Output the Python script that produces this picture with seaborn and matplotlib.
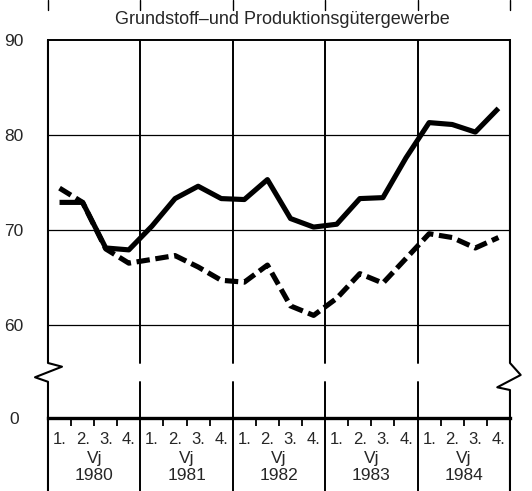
import numpy as np
import pandas as pd
import matplotlib.pyplot as plt
import seaborn as sns
from matplotlib.lines import Line2D

# values (index 1980 Q1 .. 1984 Q4)
years = ['1980', '1981', '1982', '1983', '1984']
quarter_labels = ['1.', '2.', '3.', '4.']
solid_values = [72.9, 72.9, 68.1, 67.9,
                70.4, 73.3, 74.6, 73.3,
                73.2, 75.3, 71.2, 70.3,
                70.6, 73.3, 73.4, 77.6,
                81.3, 81.1, 80.3, 82.8]
dashed_values = [74.4, 72.9, 68.0, 66.5,
                 66.9, 67.3, 66.1, 64.7,
                 64.5, 66.3, 62.0, 61.0,
                 62.8, 65.4, 64.4, 67.0,
                 69.6, 69.2, 68.1, 69.2]
grid_values = [60, 70, 80]
axis_base = 50.2  # broken axis: bottom line stands for 0
ytick_values = [axis_base, 60, 70, 80, 90]
ytick_labels = ['0', '60', '70', '80', '90']
title = 'Grundstoff\u2013und Produktionsgütergewerbe'

sns.set_style('white')
plt.rcParams['font.family'] = ['Liberation Sans Narrow', 'Liberation Sans', 'DejaVu Sans']

n = len(years) * len(quarter_labels)
df = pd.DataFrame({'pos': np.arange(n), 'solid': solid_values, 'dashed': dashed_values})

fig = plt.figure(figsize=(5.32, 4.91), dpi=100)
ax = fig.add_axes([0.0902, 0.1487, 0.8684, 0.7699])

sns.lineplot(data=df, x='pos', y='solid', color='black', lw=3.7,
             solid_joinstyle='round', solid_capstyle='butt', ax=ax)
sns.lineplot(data=df, x='pos', y='dashed', color='black', lw=3.7,
             linestyle=(0, (2.6, 1.1)), dash_joinstyle='round', ax=ax)

ax.set_xlim(-0.5, n - 0.5)
ax.set_ylim(axis_base, 90)
ax.set_xlabel('')
ax.set_ylabel('')

# horizontal grid
for g in grid_values:
    ax.axhline(g, color='black', lw=0.9, zorder=1)

# frame
for s in ['left', 'right']:
    ax.spines[s].set_visible(False)
ax.spines['top'].set_linewidth(1.4)
ax.spines['bottom'].set_linewidth(2.4)
ax.spines['top'].set_color('black')
ax.spines['bottom'].set_color('black')

gap_top, gap_bot, below = 0.1455, 0.0958, -0.193
year_edges = [i * 4 - 0.5 for i in range(len(years) + 1)]
for xe in year_edges[1:-1]:
    ax.axvline(xe, ymin=gap_top, ymax=1, color='black', lw=1.4, zorder=1)
    ax.axvline(xe, ymin=below, ymax=gap_bot, color='black', lw=1.4, clip_on=False)
for xe in year_edges:
    ax.axvline(xe, ymin=1.079, ymax=1.106, color='black', lw=1.0, clip_on=False)

# side lines with break marks
left = Line2D([0, 0, 0.0303, -0.0281, 0, 0], [1, gap_top, 0.1357, 0.1077, gap_bot, below],
              transform=ax.transAxes, color='black', lw=1.5, clip_on=False)
right = Line2D([1, 1, 1.0232, 0.9725, 1, 1], [1, gap_top, 0.1138, 0.0812, 0.074, below],
               transform=ax.transAxes, color='black', lw=1.5, clip_on=False)
ax.add_line(left)
ax.add_line(right)

# x axis: quarter separators below the base line, labels at quarter centres
quarter_seps = [x for x in np.arange(n) + 0.5 if (x + 0.5) % 4 != 0]
ax.vlines(quarter_seps, -0.022, 0, transform=ax.get_xaxis_transform(),
          color='black', lw=1.3, clip_on=False)
ax.set_xticks(np.arange(n))
ax.set_xticklabels(quarter_labels * len(years), fontsize=12)
ax.tick_params(axis='x', length=0, pad=10)

for i, yr in enumerate(years):
    xc = i * 4 + 1.5
    ax.text(xc, -0.106, 'Vj', transform=ax.get_xaxis_transform(),
            ha='center', va='center', fontsize=12.5)
    ax.text(xc, -0.153, yr, transform=ax.get_xaxis_transform(),
            ha='center', va='center', fontsize=12.5)

# y axis
ax.set_yticks(ytick_values)
ax.set_yticklabels(ytick_labels, fontsize=12.5)
ax.tick_params(axis='y', length=0, pad=24.5)
for lab in ax.get_yticklabels():
    lab.set_ha('center')

fig.text(0.53, 1 - 20 / 491, title, ha='center', va='center', fontsize=13)

fig.savefig('out.png', dpi=100)
